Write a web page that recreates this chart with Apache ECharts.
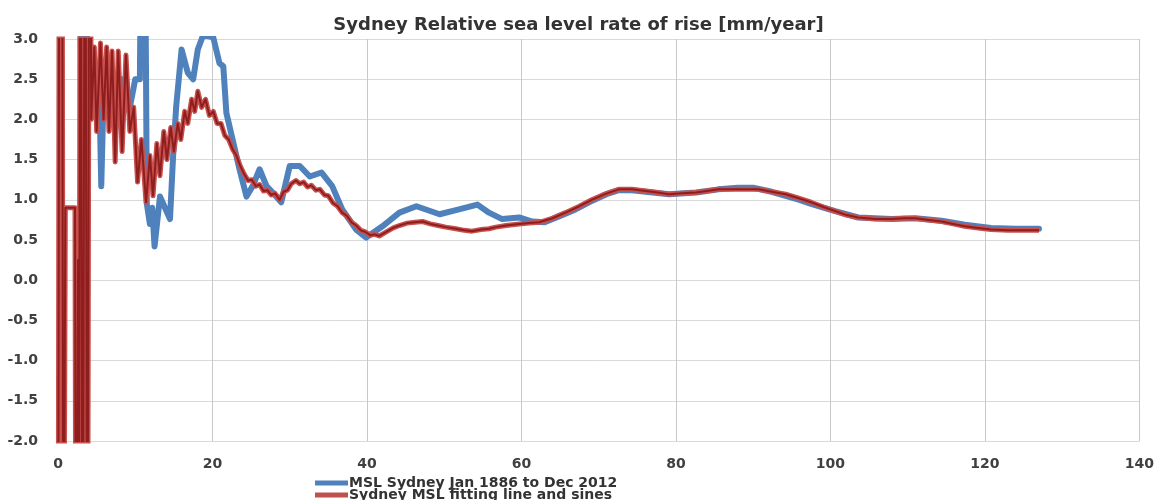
<!DOCTYPE html>
<html>
<head>
<meta charset="utf-8">
<title>Sydney Relative sea level rate of rise</title>
<script src="https://cdn.jsdelivr.net/npm/echarts@6/dist/echarts.min.js"></script>
<style>
  html, body { margin: 0; padding: 0; background: #fff; }
  #chart { width: 1157px; height: 500px; }
</style>
</head>
<body>
<div id="chart"></div>
<script>
// years since Jan 1886 / rate of rise in mm/year
var mslYears = [2.6, 3.0, 3.3, 3.8, 4.3, 4.8, 5.3, 5.6, 5.9, 6.2, 7.2, 8.2, 9.2, 10.0, 10.6, 10.9, 11.3, 11.5, 11.9, 12.2,
  12.5, 13.2, 14.5, 14.9, 15.3, 16.0, 16.8, 17.5, 18.1, 18.8, 20.1, 20.9, 21.4, 21.8, 22.6, 23.5, 24.4, 25.2, 26.1, 27.0,
  27.8, 28.9, 30.0, 31.3, 32.6, 34.1, 35.5, 36.8, 38.6, 39.9, 42.0, 44.2, 46.4, 49.4, 51.9, 54.3, 55.8, 57.5, 59.7, 61.4,
  63.0, 65.0, 67.0, 69.0, 71.0, 72.6, 74.3, 76.1, 79.1, 82.6, 85.5, 88.0, 90.0, 92.4, 94.2, 96.0, 97.5, 100.6, 103.6, 107.9,
  111.0, 114.4, 117.4, 120.8, 124.0, 127.0]
var mslRate = [8, 2.4, 8, 2.5, 2.9, 2.2, 2.6, 1.17, 2.3, 2.6, 2.3, 2.5, 2.1, 2.5, 2.5, 6, 4, 0.95, 0.7, 0.9,
  0.42, 1.04, 0.76, 1.54, 2.16, 2.87, 2.58, 2.5, 2.87, 3.05, 3.02, 2.7, 2.66, 2.08, 1.75, 1.38, 1.04, 1.17, 1.38, 1.17,
  1.09, 0.97, 1.42, 1.42, 1.29, 1.34, 1.17, 0.88, 0.63, 0.53, 0.67, 0.84, 0.92, 0.82, 0.88, 0.94, 0.84, 0.76, 0.78, 0.73,
  0.72, 0.80, 0.88, 0.98, 1.07, 1.12, 1.12, 1.10, 1.07, 1.09, 1.13, 1.15, 1.15, 1.10, 1.05, 1.00, 0.95, 0.86, 0.78, 0.76,
  0.77, 0.74, 0.69, 0.65, 0.64, 0.64]

var fitYears = [0.0, 0.2, 0.5, 0.7, 0.95, 2.2, 2.35, 2.6, 2.7, 2.9, 3.2, 3.5, 3.8, 4.1, 4.3, 4.7, 5.0, 5.5, 5.9, 6.3,
  6.6, 7.0, 7.4, 7.8, 8.3, 8.8, 9.3, 9.8, 10.3, 10.8, 11.4, 11.9, 12.3, 12.8, 13.2, 13.7, 14.1, 14.6, 15.0, 15.5,
  15.9, 16.4, 16.8, 17.3, 17.7, 18.1, 18.6, 19.1, 19.6, 20.1, 20.6, 21.1, 21.6, 22.1, 22.6, 23.1, 23.6, 24.1, 24.6, 25.1,
  25.6, 26.1, 26.6, 27.1, 27.6, 28.1, 28.7, 29.2, 29.7, 30.2, 30.8, 31.3, 31.8, 32.3, 32.8, 33.4, 33.9, 34.5, 35.0, 35.6,
  36.2, 36.8, 37.4, 38.0, 38.6, 39.2, 39.8, 40.4, 41.0, 41.6, 42.5, 43.4, 44.2, 45.2, 46.2, 47.2, 48.2, 49.2, 50.2, 51.5,
  52.6, 53.6, 54.8, 55.8, 56.7, 58.0, 59.7, 61.0, 62.3, 64.0, 65.7, 67.5, 69.1, 70.8, 72.6, 74.3, 76.1, 77.6, 79.1, 80.8,
  82.6, 84.0, 85.5, 87.3, 89.0, 90.7, 92.4, 94.2, 95.9, 97.5, 99.1, 100.6, 102.1, 103.6, 105.8, 107.9, 109.5, 111.0, 112.7, 114.4,
  115.9, 117.4, 119.1, 120.8, 123.0, 125.0, 127.0]
var fitRate = [-6, 8, 8, -6, 0.9, 0.9, -6, 0.25, -6, 8, -6, 8, -6, 8, 2.0, 2.9, 1.85, 2.95, 2.0, 2.9,
  1.85, 2.85, 1.47, 2.85, 1.6, 2.8, 1.85, 2.15, 1.22, 1.75, 0.97, 1.55, 1.05, 1.7, 1.3, 1.85, 1.5, 1.9, 1.6, 1.95,
  1.75, 2.1, 1.95, 2.25, 2.1, 2.35, 2.15, 2.25, 2.05, 2.1, 1.95, 1.95, 1.8, 1.75, 1.63, 1.55, 1.42, 1.32, 1.24, 1.25,
  1.17, 1.19, 1.11, 1.12, 1.06, 1.08, 1.0, 1.1, 1.12, 1.2, 1.24, 1.2, 1.22, 1.16, 1.18, 1.12, 1.13, 1.06, 1.05, 0.96,
  0.92, 0.84, 0.8, 0.72, 0.68, 0.62, 0.6, 0.56, 0.57, 0.55, 0.6, 0.65, 0.68, 0.71, 0.72, 0.73, 0.7, 0.68, 0.66, 0.64,
  0.62, 0.61, 0.63, 0.64, 0.66, 0.68, 0.7, 0.71, 0.72, 0.77, 0.84, 0.92, 1.0, 1.07, 1.13, 1.13, 1.11, 1.09, 1.07, 1.08,
  1.09, 1.11, 1.13, 1.13, 1.13, 1.13, 1.1, 1.07, 1.02, 0.97, 0.91, 0.86, 0.81, 0.78, 0.76, 0.76, 0.77, 0.77, 0.75, 0.73,
  0.7, 0.67, 0.65, 0.63, 0.62, 0.62, 0.62]

var xTicks = [0, 20, 40, 60, 80, 100, 120, 140]
var yTicks = ['-2.0', '-1.5', '-1.0', '-0.5', '0.0', '0.5', '1.0', '1.5', '2.0', '2.5', '3.0']

function pairs(xs, ys) {
  return xs.map(function (x, i) { return [x, ys[i]] })
}

var mslName = 'MSL Sydney Jan 1886 to Dec 2012'
var fitName = 'Sydney MSL fitting line and sines'

var legendText = {
  fontFamily: 'DejaVu Sans',
  fontSize: 14,
  fontWeight: 'bold',
  lineHeight: 12,
  color: '#333',
  padding: [0, 0, 0, -4]
}

var chart = echarts.init(document.getElementById('chart'))

var option = {
  backgroundColor: '#fff',
  animation: false,
  title: {
    text: 'Sydney Relative sea level rate of rise [mm/year]',
    left: 'center',
    top: 11,
    textStyle: {
      fontFamily: 'DejaVu Sans',
      fontSize: 18,
      fontWeight: 'bold',
      color: '#333'
    }
  },
  // two one-item legends so they stack even though the box is clipped at the bottom
  legend: [{
    left: 315,
    top: 476,
    padding: 0,
    itemWidth: 33,
    itemHeight: 5,
    icon: 'rect',
    data: [mslName],
    textStyle: legendText
  }, {
    left: 315,
    top: 488,
    padding: 0,
    itemWidth: 33,
    itemHeight: 5,
    icon: 'rect',
    data: [fitName],
    textStyle: legendText
  }],
  grid: {
    left: 58,
    right: 17,
    top: 39,
    bottom: 59
  },
  xAxis: {
    type: 'value',
    min: 0,
    max: 140,
    interval: 20,
    axisLine: { show: false },
    axisTick: { show: false },
    axisLabel: {
      margin: 16,
      fontFamily: 'DejaVu Sans',
      fontSize: 14,
      fontWeight: 'bold',
      color: '#404040',
      formatter: function (v) { return xTicks.indexOf(v) >= 0 ? String(v) : '' }
    },
    splitLine: { lineStyle: { color: '#c8c8c8', width: 1 } }
  },
  yAxis: {
    type: 'value',
    min: -2,
    max: 3,
    interval: 0.5,
    axisLine: { show: false },
    axisTick: { show: false },
    axisLabel: {
      margin: 20,
      fontFamily: 'DejaVu Sans',
      fontSize: 14,
      fontWeight: 'bold',
      color: '#404040',
      formatter: function (v) { return yTicks[Math.round((v + 2) * 2)] }
    },
    splitLine: { lineStyle: { color: '#d9d9d9', width: 1 } }
  },
  series: [{
    name: mslName,
    type: 'line',
    symbol: 'none',
    clip: true,
    color: '#4f81bd',
    lineStyle: { color: '#4f81bd', width: 6, join: 'round', cap: 'round' },
    data: pairs(mslYears, mslRate)
  }, {
    name: fitName,
    type: 'line',
    symbol: 'none',
    clip: true,
    color: '#c0504d',
    lineStyle: { color: '#c8504d', width: 5, join: 'round' },
    data: pairs(fitYears, fitRate)
  }, {
    // dark core of the fitted line
    name: 'fit-core',
    type: 'line',
    symbol: 'none',
    clip: true,
    color: '#8e1e1e',
    lineStyle: { color: '#8e1e1e', width: 2, join: 'round' },
    data: pairs(fitYears, fitRate)
  }]
}
chart.setOption(option)
</script>
</body>
</html>
